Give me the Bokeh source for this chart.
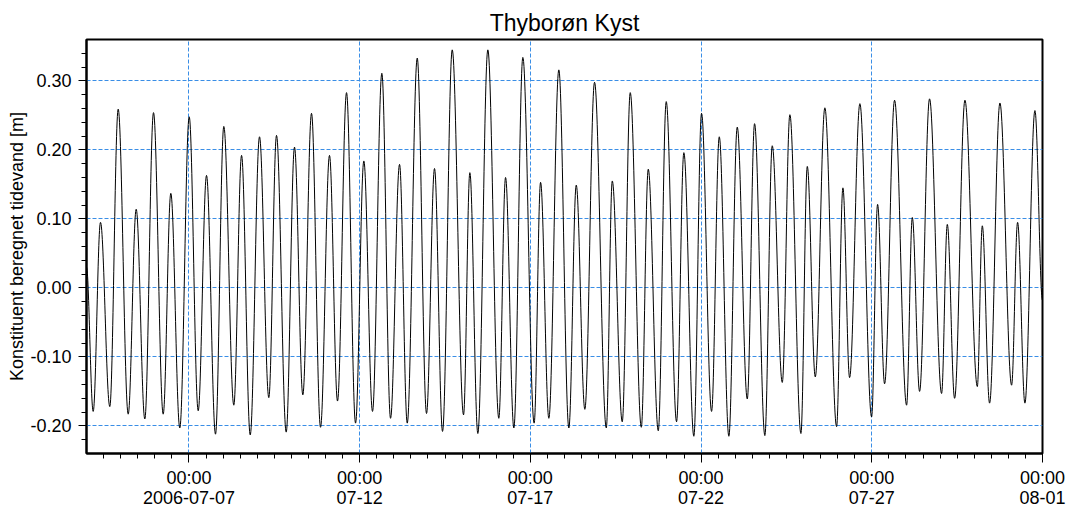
import pandas as pd
from datetime import datetime, timedelta
from bokeh.plotting import figure
from bokeh.models import (Range1d, FixedTicker, SingleIntervalTicker, NumeralTickFormatter,
                          ColumnDataSource)
from bokeh.embed import file_html
from bokeh.resources import INLINE

# ---- data: extremes of the constituent tide ----
times = [
    "2006-07-04 00:00", "2006-07-04 04:42", "2006-07-04 09:50", "2006-07-04 16:23", "2006-07-04 22:17",
    "2006-07-05 05:19", "2006-07-05 10:56", "2006-07-05 17:00", "2006-07-05 23:06",
    "2006-07-06 05:55", "2006-07-06 11:16", "2006-07-06 17:35", "2006-07-07 00:12",
    "2006-07-07 06:31", "2006-07-07 12:22", "2006-07-07 18:41", "2006-07-08 00:31",
    "2006-07-08 07:33", "2006-07-08 13:00", "2006-07-08 19:05", "2006-07-09 01:37",
    "2006-07-09 08:09", "2006-07-09 13:34", "2006-07-09 20:23", "2006-07-10 02:13",
    "2006-07-10 08:04", "2006-07-10 14:10", "2006-07-10 20:30", "2006-07-11 02:49",
    "2006-07-11 08:27", "2006-07-11 14:47", "2006-07-11 21:07", "2006-07-12 02:57",
    "2006-07-12 09:03", "2006-07-12 15:36", "2006-07-12 21:43", "2006-07-13 04:03",
    "2006-07-13 09:28", "2006-07-13 16:29", "2006-07-13 23:01", "2006-07-14 04:38",
    "2006-07-14 10:16", "2006-07-14 17:05", "2006-07-15 01:02", "2006-07-15 05:28",
    "2006-07-15 11:05", "2006-07-15 18:07", "2006-07-16 01:50", "2006-07-16 06:34",
    "2006-07-16 12:24", "2006-07-16 18:43", "2006-07-17 02:40", "2006-07-17 07:11",
    "2006-07-17 13:00", "2006-07-17 20:01", "2006-07-18 03:04", "2006-07-18 08:16",
    "2006-07-18 14:18", "2006-07-18 21:07", "2006-07-19 05:23", "2006-07-19 09:35",
    "2006-07-19 16:36", "2006-07-19 22:13", "2006-07-20 05:59", "2006-07-20 10:53",
    "2006-07-20 17:55", "2006-07-20 23:31", "2006-07-21 06:46", "2006-07-21 11:54",
    "2006-07-21 18:55", "2006-07-22 00:20", "2006-07-22 07:23", "2006-07-22 12:48",
    "2006-07-22 19:32", "2006-07-23 01:26", "2006-07-23 08:29", "2006-07-23 13:36",
    "2006-07-23 20:50", "2006-07-24 02:02", "2006-07-24 09:05", "2006-07-24 14:25",
    "2006-07-24 22:11", "2006-07-25 02:40", "2006-07-25 08:17", "2006-07-25 15:01",
    "2006-07-25 23:16", "2006-07-26 03:42", "2006-07-26 08:24", "2006-07-26 15:38",
    "2006-07-26 23:52", "2006-07-27 04:05", "2006-07-27 09:00", "2006-07-27 16:01",
    "2006-07-28 00:28", "2006-07-28 04:29", "2006-07-28 09:36", "2006-07-28 16:36",
    "2006-07-29 01:04", "2006-07-29 05:05", "2006-07-29 10:13", "2006-07-29 17:29",
    "2006-07-30 02:11", "2006-07-30 05:41", "2006-07-30 10:48", "2006-07-30 18:04",
    "2006-07-31 02:17", "2006-07-31 06:30", "2006-07-31 11:38", "2006-07-31 18:40",
    "2006-08-01 00:00",
]
levels = [
    0.030, -0.179, 0.095, -0.172, 0.259,
    -0.183, 0.114, -0.190, 0.254,
    -0.183, 0.137, -0.203, 0.248,
    -0.178, 0.163, -0.212, 0.234,
    -0.170, 0.192, -0.213, 0.219,
    -0.159, 0.221, -0.209, 0.204,
    -0.155, 0.253, -0.202, 0.192,
    -0.164, 0.283, -0.196, 0.184,
    -0.179, 0.311, -0.189, 0.179,
    -0.196, 0.333, -0.182, 0.173,
    -0.208, 0.345, -0.184, 0.167,
    -0.211, 0.345, -0.189, 0.160,
    -0.203, 0.334, -0.196, 0.153,
    -0.189, 0.316, -0.203, 0.149,
    -0.176, 0.298, -0.203, 0.155,
    -0.194, 0.283, -0.202, 0.172,
    -0.207, 0.270, -0.194, 0.196,
    -0.215, 0.253, -0.179, 0.219,
    -0.215, 0.233, -0.161, 0.238,
    -0.214, 0.206, -0.137, 0.251,
    -0.211, 0.176, -0.129, 0.261,
    -0.201, 0.145, -0.130, 0.267,
    -0.187, 0.121, -0.139, 0.272,
    -0.170, 0.102, -0.150, 0.274,
    -0.153, 0.092, -0.160, 0.272,
    -0.143, 0.090, -0.167, 0.268,
    -0.141, 0.095, -0.167, 0.257,
    -0.018,
]

major_dates = ["2006-07-07", "2006-07-12", "2006-07-17", "2006-07-22", "2006-07-27", "2006-08-01"]
major_labels = ["00:00\n2006-07-07", "00:00\n07-12", "00:00\n07-17", "00:00\n07-22", "00:00\n07-27", "00:00\n08-01"]

title_text = "Thyborøn Kyst"
y_label = "Konstituent beregnet tidevand [m]"

# ---- figure ----
def ms(d):
    return pd.Timestamp(d).value / 1e6

tx = [ms(s) for s in times]

# smooth curve between successive extremes (horizontal tangents at each extreme)
K = 0.3642
x0 = tx[:-1]; x1 = tx[1:]
y0 = levels[:-1]; y1 = levels[1:]
cx0 = [a + K * (b - a) for a, b in zip(x0, x1)]
cx1 = [b - K * (b - a) for a, b in zip(x0, x1)]
src = ColumnDataSource(dict(x0=x0, y0=y0, x1=x1, y1=y1, cx0=cx0, cy0=y0, cx1=cx1, cy1=y1))

major_ms = [ms(d) for d in major_dates]
minor_ms = []
cur = datetime(2006, 7, 4, 12)
while cur < datetime(2006, 8, 1):
    minor_ms.append(ms(cur))
    cur += timedelta(hours=12)

FONT = "Liberation Sans"
GRID = "#3A8EE6"

p = figure(width=1066, height=510, x_axis_type="datetime",
           x_range=Range1d(ms("2006-07-04"), ms("2006-08-01")),
           y_range=Range1d(-0.24, 0.36),
           output_backend="svg", toolbar_location=None,
           min_border_left=86, min_border_right=24, min_border_top=39, min_border_bottom=56)

p.title.text = title_text
p.title.align = "center"
p.title.text_font = FONT
p.title.text_font_size = "23px"
p.title.text_font_style = "normal"
p.title.text_color = "black"
p.title.standoff = 8

p.bezier(x0="x0", y0="y0", x1="x1", y1="y1", cx0="cx0", cy0="cy0", cx1="cx1", cy1="cy1",
         source=src, line_color="black", line_width=1)

xt = FixedTicker(ticks=major_ms, minor_ticks=minor_ms)
p.xaxis.ticker = xt
p.xaxis.major_label_overrides = {m: lab for m, lab in zip(major_ms, major_labels)}
yt = SingleIntervalTicker(interval=0.1, num_minor_ticks=5)
p.yaxis.ticker = yt
p.yaxis.formatter = NumeralTickFormatter(format="0.00")
p.yaxis.axis_label = y_label

for ax in (p.xaxis, p.yaxis):
    ax.major_label_text_font = FONT
    ax.major_label_text_font_size = "18px"
    ax.major_label_text_color = "black"
    ax.axis_label_text_font = FONT
    ax.axis_label_text_font_size = "18px"
    ax.axis_label_text_font_style = "normal"
    ax.axis_label_text_color = "black"
    ax.axis_line_color = "black"
    ax.axis_line_width = 2
    ax.major_tick_line_color = "black"
    ax.minor_tick_line_color = "black"
    ax.major_tick_in = 0
    ax.minor_tick_in = 0
    ax.minor_tick_out = 5

p.xaxis.major_tick_out = 9
p.yaxis.major_tick_out = 8
p.xaxis.major_label_standoff = 5
p.xaxis.major_label_text_line_height = 1.0
p.xaxis.axis_label_standoff = 0
p.yaxis.major_label_standoff = 7
p.yaxis.axis_label_standoff = 0

p.xgrid.ticker = FixedTicker(ticks=major_ms)
for g in (p.xgrid, p.ygrid):
    g.grid_line_color = GRID
    g.grid_line_dash = "4 2"
    g.grid_line_width = 1

p.outline_line_color = "black"
p.outline_line_width = 2
p.background_fill_color = "white"
p.border_fill_color = "white"

open("out.html", "w").write(file_html(p, INLINE))
